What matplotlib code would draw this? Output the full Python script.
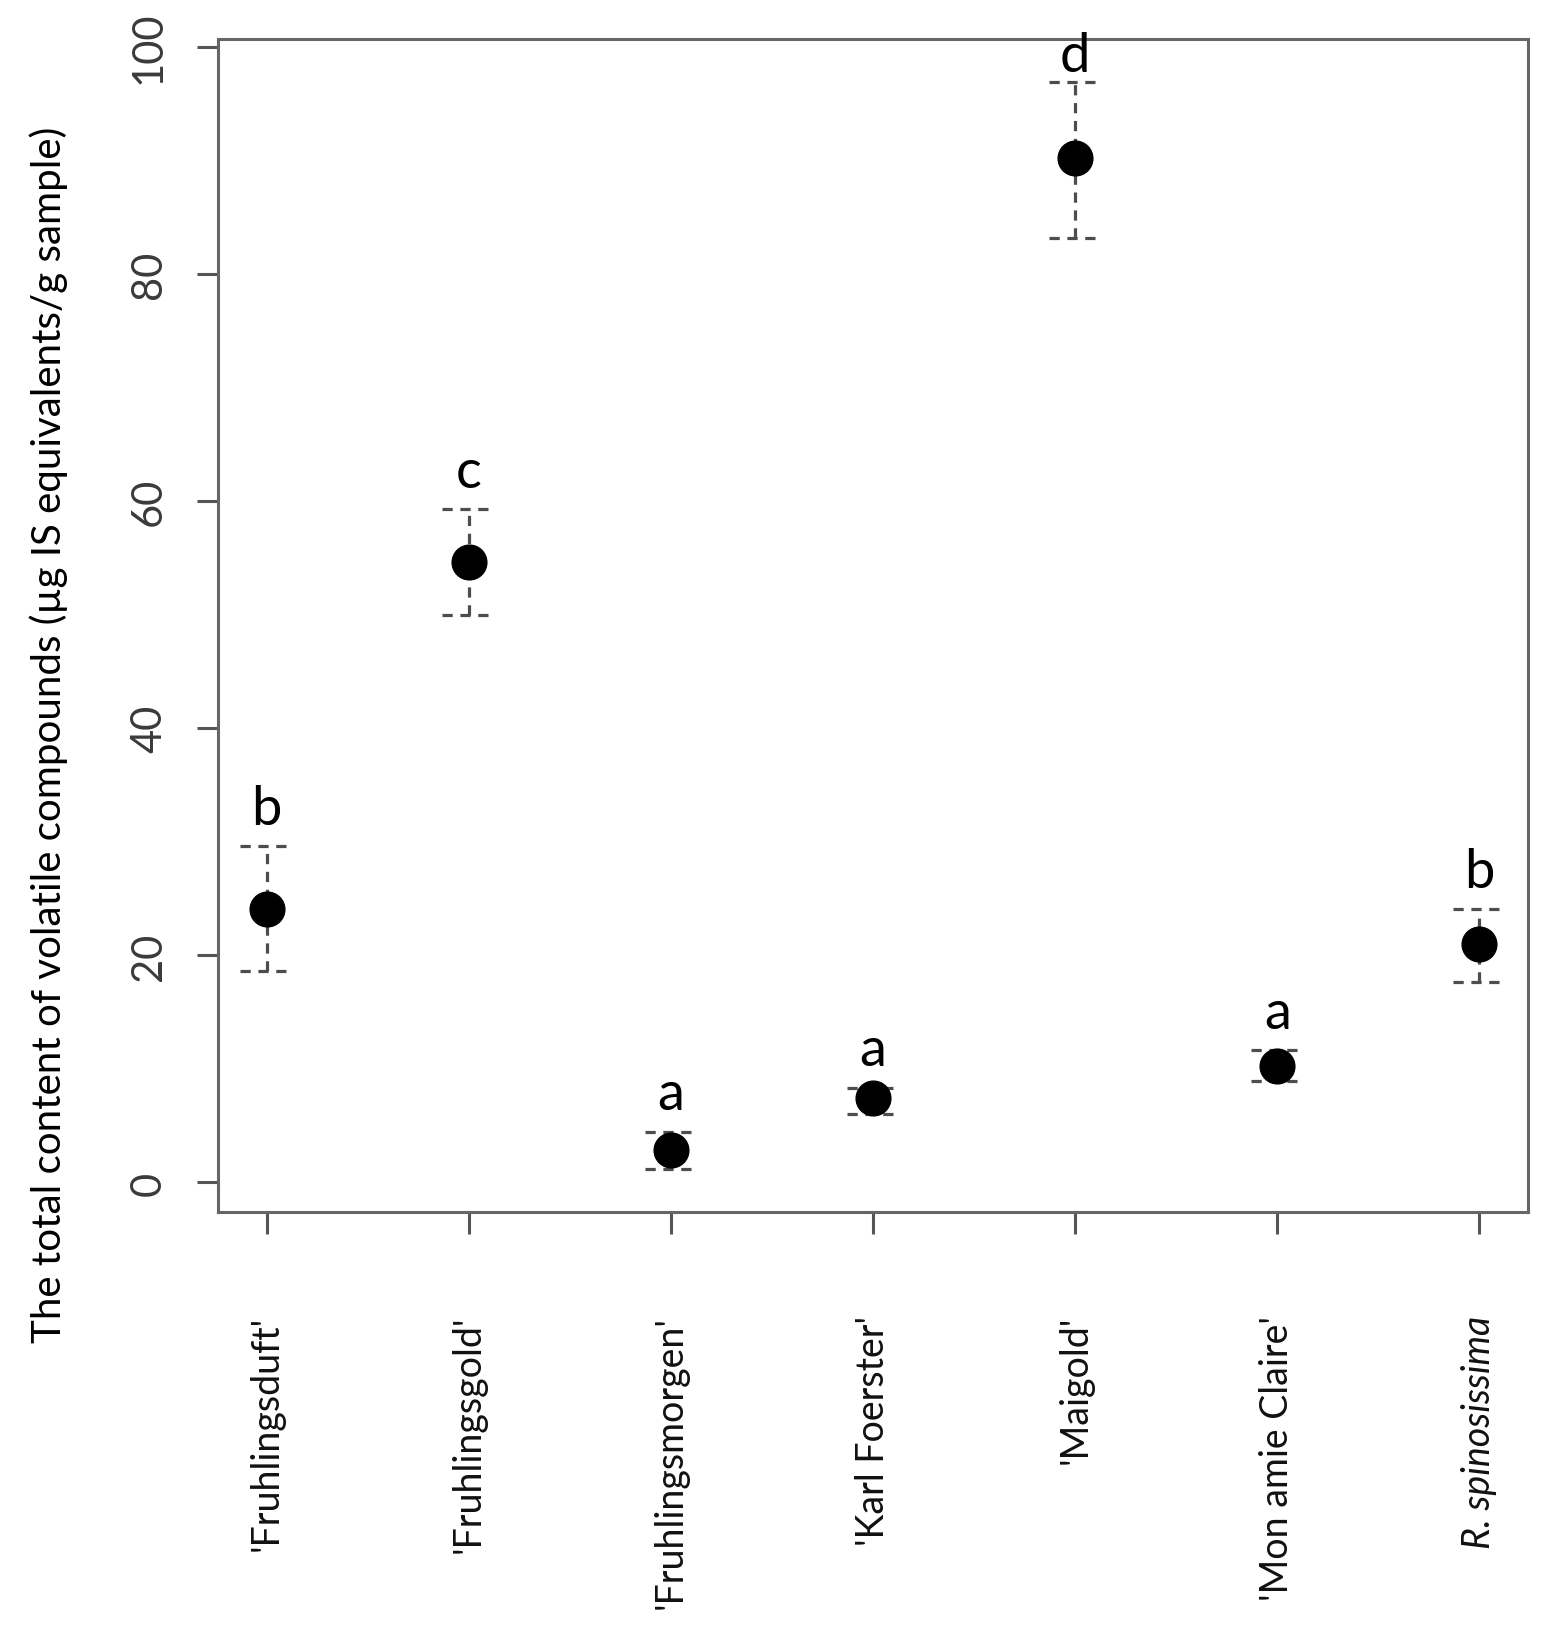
import numpy as np
import matplotlib.pyplot as plt

# cultivars and the total volatile content (mean with lower/upper bar ends)
cultivars = ["'Fruhlingsduft'", "'Fruhlingsgold'", "'Fruhlingsmorgen'", "'Karl Foerster'",
             "'Maigold'", "'Mon amie Claire'", "R. spinosissima"]
means = [24.05, 54.65, 2.82, 7.4, 90.28, 10.3, 20.97]
lower = [18.6, 49.98, 1.23, 6.05, 83.17, 8.93, 17.68]
upper = [29.6, 59.3, 4.43, 8.34, 96.89, 11.63, 24.05]
groups = ['b', 'c', 'a', 'a', 'd', 'a', 'b']

font_main = ['Lato', 'DejaVu Sans']
font_num = ['Liberation Sans Narrow', 'Lato', 'DejaVu Sans']

x = np.arange(1, len(cultivars) + 1)
means = np.array(means)
lower = np.array(lower)
upper = np.array(upper)

fig = plt.figure(figsize=(15.6, 16.33), dpi=100)
ax = fig.add_axes([218 / 1560, 1 - 1213 / 1633, (1528 - 218) / 1560, (1213 - 40) / 1633])

err_col = '#4d4d4d'
dash = (0, (3.2, 2.4))
cap = 0.13
ax.vlines(x, lower, upper, colors=err_col, linewidth=2.3, linestyles=[dash])
ax.hlines(lower, x - cap, x + cap, colors=err_col, linewidth=2.3, linestyles=[dash])
ax.hlines(upper, x - cap, x + cap, colors=err_col, linewidth=2.3, linestyles=[dash])
ax.plot(x, means, 'o', color='black', markersize=25, zorder=3)

# letters for significance groups
label_y = np.minimum(upper + 2.0, 97.9)
for xi, yi, g in zip(x, label_y, groups):
    ax.text(xi, yi, g, ha='center', va='baseline', fontsize=39, family=font_main)

ax.set_xlim(0.76, 7.24)
ax.set_ylim(-2.6, 100.72)

ax.set_yticks([0, 20, 40, 60, 80, 100])
ax.set_yticklabels(['0', '20', '40', '60', '80', '100'], rotation=90, va='center',
                   family=font_num, fontsize=30, color='#3a3a3a')
ax.set_xticks(x)
ax.set_xticklabels(cultivars, rotation=90, family=font_main, fontsize=27, color='#111111')
ax.get_xticklabels()[6].set_style('italic')

for s in ax.spines.values():
    s.set_color('#666666')
    s.set_linewidth(2.2)
ax.tick_params(axis='y', length=15, width=2.2, color='#555555', pad=21)
ax.tick_params(axis='x', length=16, width=2.2, color='#555555', pad=58)

fig.text(49 / 1560, 1 - 735 / 1633,
         'The total content of volatile compounds (\u00b5g IS equivalents/g sample)',
         rotation=90, ha='center', va='center', fontsize=29, family=font_main)

fig.savefig('out.png', dpi=100)
